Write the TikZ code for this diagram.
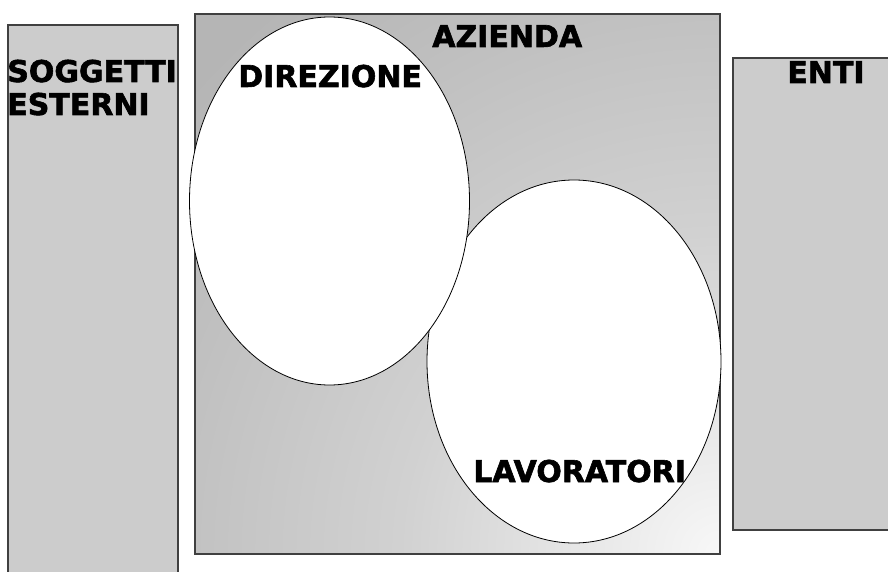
\documentclass[tikz,border=0pt]{standalone}
\usepackage{fontspec}
\setmainfont{DejaVu Sans}[BoldFeatures={FakeBold=2}]
\usetikzlibrary{shapes.geometric}

\pgfdeclareradialshading{aziendashade}{\pgfpoint{0bp}{0bp}}{color(0bp)=(white!97!black); color(10bp)=(white!82!black); color(22bp)=(white!71!black); color(50bp)=(white!69!black)}

\begin{document}
\begin{tikzpicture}[x=1pt,y=-1pt,semithick]
        \tikzstyle{side}=[draw=black!75,line width=1.5pt,fill=black!20]
        \tikzstyle{oval}=[ellipse,draw,line width=0.8pt,fill=white,inner sep=0pt]
        \tikzstyle{tag}=[font=\fontsize{30}{33}\selectfont\bfseries,inner sep=0pt,anchor=base west]

        \useasboundingbox (0,0) rectangle (888,572);

        % blocchi esterni
        \draw[side] (8,25) rectangle (178,590);
        \draw[side] (733,58) rectangle (900,530);

        % azienda
        \begin{scope}
            \clip (195,14) rectangle (720,554);
            \fill[white!69!black] (195,14) rectangle (720,554);
            \shade[shading=aziendashade] (720,554) circle (800pt);
        \end{scope}
        \draw[draw=black!75,line width=1.5pt] (195,14) rectangle (720,554);

        \node[oval,minimum width=294pt,minimum height=363pt] (lav) at (574,361.5) {};
        \node[oval,minimum width=280pt,minimum height=368pt] (dir) at (329.5,201) {};

        \node[tag] (soggetti)   at (7,82)    {SOGGETTI};
        \node[tag] (esterni)    at (7,115)   {ESTERNI};
        \node[tag] (azienda)    at (432,47)  {AZIENDA};
        \node[tag] (direzione)  at (238,87)  {DIREZIONE};
        \node[tag] (lavoratori) at (473,482) {LAVORATORI};
        \node[tag] (enti)       at (787,83)  {ENTI};
    \end{tikzpicture}
\end{document}
